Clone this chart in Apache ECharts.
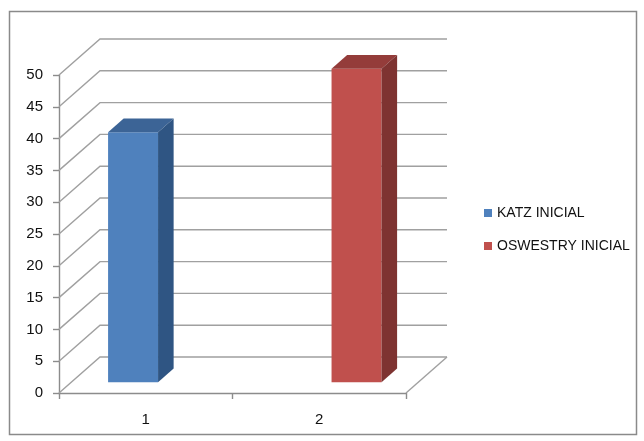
<!DOCTYPE html>
<html>
<head>
<meta charset="utf-8">
<script src="https://cdn.jsdelivr.net/npm/echarts@6/dist/echarts.min.js"></script>
<style>
  html, body { margin: 0; padding: 0; background: #fff; }
  #chart { width: 644px; height: 441px; }
</style>
</head>
<body>
<div id="chart"></div>
<script>
// Categories and the two series (each has a value in one category only)
const categories = ['1', '2'];
const katzInicial = [39.3, null];
const oswestryInicial = [null, 49.3];
const seriesNames = ['KATZ INICIAL', 'OSWESTRY INICIAL'];
const yTicks = [0, 5, 10, 15, 20, 25, 30, 35, 40, 45, 50];

// Oblique depth of the back wall / floor, in pixels
const WALL = [41, -36];
// Bars sit between these fractions of the depth
const BAR_FRONT = 0.3, BAR_BACK = 0.68;
// Bar width and cluster offset as fractions of the category band
const BAR_W = 0.288;
const BAR_SHIFT = [-0.144, 0.144];

const faces = [
  { front: '#4f81bd', top: '#3c6496', side: '#2f5583' },
  { front: '#c0504d', top: '#943c3a', side: '#7e3331' }
];

const GRID_COLOR = '#a0a0a0';
const AXIS_COLOR = '#8c8c8c';
const FONT = '"Liberation Sans", Arial, sans-serif';

function toData(values) {
  const out = [];
  values.forEach((v, i) => { if (v !== null) out.push([i, v]); });
  return out;
}

function renderWall(params, api) {
  const cs = params.coordSys;
  const v = api.value(1);
  const y = api.coord([0, v])[1];
  const x0 = cs.x, x1 = cs.x + cs.width;
  const children = [{
    type: 'polyline',
    shape: { points: [[x0, y], [x0 + WALL[0], y + WALL[1]], [x1 + WALL[0], y + WALL[1]]] },
    style: { stroke: GRID_COLOR, lineWidth: 1.4, fill: null }
  }];
  if (v === 0) {
    // right edge of the floor
    children.push({
      type: 'line',
      shape: { x1: x1, y1: y, x2: x1 + WALL[0], y2: y + WALL[1] },
      style: { stroke: GRID_COLOR, lineWidth: 1.4 }
    });
  }
  return { type: 'group', children: children };
}

function makeBarRenderer(idx) {
  return function (params, api) {
    const ci = api.value(0), v = api.value(1);
    const band = api.size([1, 0])[0];
    const top = api.coord([ci, v]);
    const base = api.coord([ci, 0]);
    const fx = WALL[0] * BAR_FRONT, fy = WALL[1] * BAR_FRONT;
    const dx = WALL[0] * (BAR_BACK - BAR_FRONT), dy = WALL[1] * (BAR_BACK - BAR_FRONT);
    const cx = top[0] + fx + BAR_SHIFT[idx] * band;
    const w = BAR_W * band;
    const xl = cx - w / 2, xr = cx + w / 2;
    const yt = top[1] + fy, yb = base[1] + fy;
    const c = faces[idx];
    return {
      type: 'group',
      children: [
        { type: 'rect', shape: { x: xl, y: yt, width: w, height: yb - yt }, style: { fill: c.front } },
        { type: 'polygon', shape: { points: [[xl, yt], [xl + dx, yt + dy], [xr + dx, yt + dy], [xr, yt]] }, style: { fill: c.top } },
        { type: 'polygon', shape: { points: [[xr, yt], [xr + dx, yt + dy], [xr + dx, yb + dy], [xr, yb]] }, style: { fill: c.side } }
      ]
    };
  };
}

const chart = echarts.init(document.getElementById('chart'), null, { renderer: 'canvas' });

chart.setOption({
  backgroundColor: '#fff',
  animation: false,
  graphic: [{
    type: 'rect',
    shape: { x: 9.5, y: 11.5, width: 627, height: 423 },
    style: { fill: null, stroke: '#8a8a8a', lineWidth: 1.5 },
    silent: true
  }],
  grid: { left: 59, right: 238, top: 75, bottom: 48 },
  legend: {
    orient: 'vertical',
    left: 484,
    top: 206,
    padding: 0,
    itemWidth: 8,
    itemHeight: 8,
    itemGap: 19,
    icon: 'rect',
    data: seriesNames,
    textStyle: { fontFamily: FONT, fontSize: 14, color: '#111', lineHeight: 14 }
  },
  xAxis: {
    type: 'category',
    data: categories,
    boundaryGap: true,
    axisLine: { show: true, lineStyle: { color: AXIS_COLOR, width: 1.4 } },
    axisTick: { show: true, length: 6, lineStyle: { color: AXIS_COLOR, width: 1.4 } },
    axisLabel: { margin: 19, fontFamily: FONT, fontSize: 15, color: '#111' },
    splitLine: { show: false }
  },
  yAxis: {
    type: 'value',
    min: 0,
    max: 50,
    interval: 5,
    axisLine: { show: true, lineStyle: { color: AXIS_COLOR, width: 1.4 } },
    axisTick: { show: true, length: 6, lineStyle: { color: AXIS_COLOR, width: 1.4 } },
    axisLabel: { margin: 16, fontFamily: FONT, fontSize: 15, color: '#111' },
    splitLine: { show: false }
  },
  series: [
    {
      name: '_walls',
      type: 'custom',
      silent: true,
      z: 1,
      renderItem: renderWall,
      data: yTicks.map(v => [0, v])
    },
    {
      name: seriesNames[0],
      type: 'custom',
      z: 3,
      itemStyle: { color: faces[0].front },
      renderItem: makeBarRenderer(0),
      data: toData(katzInicial)
    },
    {
      name: seriesNames[1],
      type: 'custom',
      z: 3,
      itemStyle: { color: faces[1].front },
      renderItem: makeBarRenderer(1),
      data: toData(oswestryInicial)
    }
  ]
});
</script>
</body>
</html>
